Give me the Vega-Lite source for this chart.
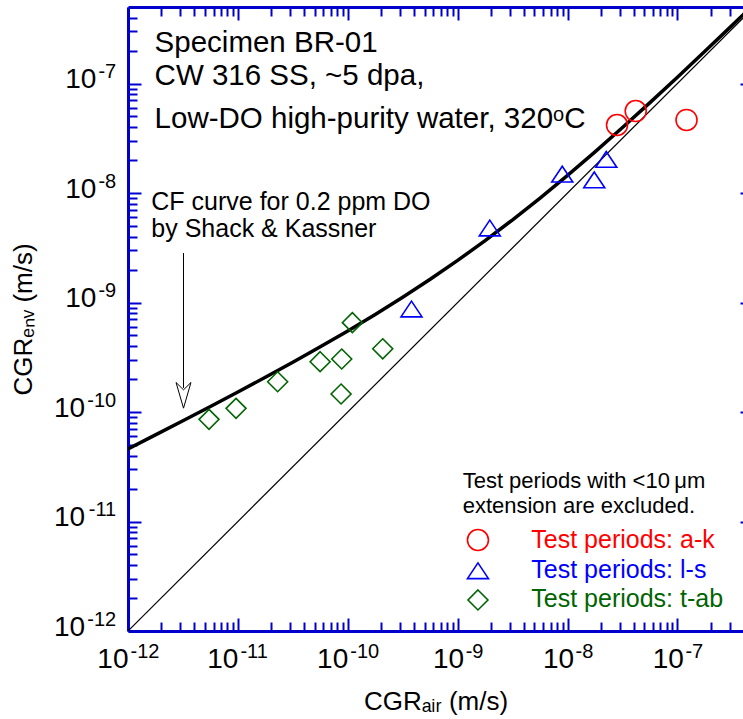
{
  "$schema": "https://vega.github.io/schema/vega-lite/v6.json",
  "width": 615,
  "height": 624,
  "autosize": {"type": "none"},
  "padding": {"left": 128, "top": 7, "right": 0, "bottom": 88},
  "background": "white",
  "resolve": {"axis": {"x": "independent", "y": "independent"}},
  "config": {
    "view": {"stroke": null},
    "axis": {
      "grid": false,
      "domainColor": "#0000CC",
      "domainWidth": 3,
      "tickColor": "#0000CC",
      "tickWidth": 2,
      "labelFont": "Liberation Sans",
      "labelFontSize": 28,
      "labelColor": "black",
      "labelOverlap": false,
      "labelFlush": false,
      "labelBound": false,
      "titleFont": "Liberation Sans",
      "titleFontSize": 26,
      "titleFontWeight": "normal",
      "titleColor": "black"
    }
  },
  "datasets": {
    "diag": [{"x": 1e-12, "y": 1e-12}, {"x": 5e-7, "y": 5e-7}],
    "curve": [
      {"x": 1e-12, "y": 4.6e-11}, {"x": 1.778e-12, "y": 6.18e-11}, {"x": 3.162e-12, "y": 8.32e-11},
      {"x": 5.623e-12, "y": 1.123e-10}, {"x": 1e-11, "y": 1.523e-10}, {"x": 1.778e-11, "y": 2.076e-10},
      {"x": 3.162e-11, "y": 2.847e-10}, {"x": 5.623e-11, "y": 3.937e-10}, {"x": 1e-10, "y": 5.5e-10},
      {"x": 1.778e-10, "y": 7.78e-10}, {"x": 3.162e-10, "y": 1.116e-9}, {"x": 5.623e-10, "y": 1.629e-9},
      {"x": 1e-9, "y": 2.423e-9}, {"x": 1.778e-9, "y": 3.676e-9}, {"x": 3.162e-9, "y": 5.692e-9},
      {"x": 5.623e-9, "y": 8.998e-9}, {"x": 1e-8, "y": 1.45e-8}, {"x": 1.778e-8, "y": 2.378e-8},
      {"x": 3.162e-8, "y": 3.962e-8}, {"x": 5.623e-8, "y": 6.69e-8}, {"x": 1e-7, "y": 1.142e-7},
      {"x": 1.778e-7, "y": 1.968e-7}, {"x": 3.162e-7, "y": 3.415e-7}, {"x": 5e-7, "y": 5.318e-7}
    ],
    "points": [
      {"x": 2.82e-8, "y": 4.18e-8, "series": "a-k"},
      {"x": 4.17e-8, "y": 5.61e-8, "series": "a-k"},
      {"x": 1.21e-7, "y": 4.65e-8, "series": "a-k"},
      {"x": 3.8e-10, "y": 8.73e-10, "series": "l-s"},
      {"x": 1.96e-9, "y": 4.79e-9, "series": "l-s"},
      {"x": 8.95e-9, "y": 1.49e-8, "series": "l-s"},
      {"x": 1.75e-8, "y": 1.32e-8, "series": "l-s"},
      {"x": 2.25e-8, "y": 2.03e-8, "series": "l-s"},
      {"x": 5.46e-12, "y": 8.57e-11, "series": "t-ab"},
      {"x": 9.62e-12, "y": 1.08e-10, "series": "t-ab"},
      {"x": 2.3e-11, "y": 1.89e-10, "series": "t-ab"},
      {"x": 5.6e-11, "y": 2.88e-10, "series": "t-ab"},
      {"x": 8.81e-11, "y": 3.05e-10, "series": "t-ab"},
      {"x": 1.1e-10, "y": 6.55e-10, "series": "t-ab"},
      {"x": 2.08e-10, "y": 3.78e-10, "series": "t-ab"},
      {"x": 8.69e-11, "y": 1.46e-10, "series": "t-ab"}
    ],
    "legendMarks": [
      {"x": 1.53e-9, "y": 6.78e-12, "series": "a-k"},
      {"x": 1.53e-9, "y": 3.55e-12, "series": "l-s"},
      {"x": 1.53e-9, "y": 1.92e-12, "series": "t-ab"}
    ],
    "legendText": [
      {"x": 4.68e-9, "y": 5.69e-12, "series": "a-k", "text": "Test periods: a-k"},
      {"x": 4.68e-9, "y": 3.03e-12, "series": "l-s", "text": "Test periods: l-s"},
      {"x": 4.68e-9, "y": 1.67e-12, "series": "t-ab", "text": "Test periods: t-ab"}
    ],
    "legendHeader": [
      {"x": 1.11e-9, "y": 2.01e-11, "text": "Test periods with <10\u2009μm"},
      {"x": 1.11e-9, "y": 1.19e-11, "text": "extension are excluded."}
    ],
    "titleBlock": [
      {"x": 1.746e-12, "y": 1.95e-7, "text": "Specimen BR-01"},
      {"x": 1.746e-12, "y": 9.68e-8, "text": "CW 316 SS, ~5 dpa,"},
      {"x": 1.746e-12, "y": 3.93e-8, "text": "Low-DO high-purity water, 320ᵒC"}
    ],
    "cfNote": [
      {"x": 1.63e-12, "y": 7.0e-9, "text": "CF curve for 0.2 ppm DO"},
      {"x": 1.63e-12, "y": 3.99e-9, "text": "by Shack & Kassner"}
    ],
    "arrowLine": [{"x": 3.2e-12, "y": 2.83e-9, "y2": 1.66e-10}],
    "arrowHead": [{"x": 3.2e-12, "y": 1.42e-10}]
  },
  "layer": [
    {
      "data": {"name": "diag"},
      "mark": {"type": "line", "color": "black", "strokeWidth": 1.2, "clip": true},
      "encoding": {
        "x": {
          "field": "x", "type": "quantitative",
          "scale": {"type": "log", "domain": [1e-12, 3.95e-7], "nice": false},
          "axis": {
            "orient": "bottom",
            "values": [1e-12,2e-12,3e-12,4e-12,5e-12,6e-12,7e-12,8e-12,9e-12,1e-11,2e-11,3e-11,4e-11,5e-11,6e-11,7e-11,8e-11,9e-11,1e-10,2e-10,3e-10,4e-10,5e-10,6e-10,7e-10,8e-10,9e-10,1e-9,2e-9,3e-9,4e-9,5e-9,6e-9,7e-9,8e-9,9e-9,1e-8,2e-8,3e-8,4e-8,5e-8,6e-8,7e-8,8e-8,9e-8,1e-7,2e-7,3e-7],
            "labelExpr": "abs(log(datum.value)/LN10 - round(log(datum.value)/LN10)) > 0.001 ? '' : '10'",
            "tickSize": {"condition": {"test": "abs(log(datum.value)/LN10 - round(log(datum.value)/LN10)) < 0.001", "value": -13}, "value": -9},
            "labelAlign": "right",
            "labelBaseline": "alphabetic",
            "labelOffset": {"condition": {"test": "datum.value < 5e-10", "value": 0}, "value": 6},
            "labelPadding": 49.3,
            "title": "CGRₐᵢᵣ (m/s)",
            "titlePadding": 11
          }
        },
        "y": {
          "field": "y", "type": "quantitative",
          "scale": {"type": "log", "domain": [1e-12, 5e-7], "nice": false},
          "axis": {
            "orient": "left",
            "values": [1e-12,2e-12,3e-12,4e-12,5e-12,6e-12,7e-12,8e-12,9e-12,1e-11,2e-11,3e-11,4e-11,5e-11,6e-11,7e-11,8e-11,9e-11,1e-10,2e-10,3e-10,4e-10,5e-10,6e-10,7e-10,8e-10,9e-10,1e-9,2e-9,3e-9,4e-9,5e-9,6e-9,7e-9,8e-9,9e-9,1e-8,2e-8,3e-8,4e-8,5e-8,6e-8,7e-8,8e-8,9e-8,1e-7,2e-7,3e-7,4e-7],
            "labelExpr": "abs(log(datum.value)/LN10 - round(log(datum.value)/LN10)) > 0.001 ? '' : '10'",
            "tickSize": {"condition": {"test": "abs(log(datum.value)/LN10 - round(log(datum.value)/LN10)) < 0.001", "value": -13}, "value": -9},
            "labelAlign": "right",
            "labelBaseline": "alphabetic",
            "labelOffset": 4,
            "labelPadding": {"condition": {"test": "datum.value < 5e-10", "value": 56.3}, "value": 45.2},
            "title": "CGRₑₙᵥ (m/s)",
            "titlePadding": 17
          }
        }
      }
    },
    {
      "data": {"name": "curve"},
      "mark": {"type": "line", "color": "black", "strokeWidth": 3.5, "clip": true},
      "encoding": {
        "x": {
          "field": "x", "type": "quantitative",
          "scale": {"type": "log", "domain": [1e-12, 3.95e-7], "nice": false},
          "axis": {
            "orient": "top",
            "values": [1e-12,2e-12,3e-12,4e-12,5e-12,6e-12,7e-12,8e-12,9e-12,1e-11,2e-11,3e-11,4e-11,5e-11,6e-11,7e-11,8e-11,9e-11,1e-10,2e-10,3e-10,4e-10,5e-10,6e-10,7e-10,8e-10,9e-10,1e-9,2e-9,3e-9,4e-9,5e-9,6e-9,7e-9,8e-9,9e-9,1e-8,2e-8,3e-8,4e-8,5e-8,6e-8,7e-8,8e-8,9e-8,1e-7,2e-7,3e-7],
            "labels": false,
            "tickSize": {"condition": {"test": "abs(log(datum.value)/LN10 - round(log(datum.value)/LN10)) < 0.001", "value": -13}, "value": -9},
            "title": null
          }
        },
        "y": {
          "field": "y", "type": "quantitative",
          "scale": {"type": "log", "domain": [1e-12, 5e-7], "nice": false},
          "axis": {
            "orient": "right",
            "values": [1e-12, 1e-11, 1e-10, 1e-9, 1e-8, 1e-7],
            "labels": false,
            "domain": false,
            "tickSize": -3,
            "title": null
          }
        }
      }
    },
    {
      "data": {"name": "arrowLine"},
      "mark": {"type": "rule", "color": "black", "strokeWidth": 1},
      "encoding": {
        "x": {"field": "x", "type": "quantitative", "axis": null},
        "y": {"field": "y", "type": "quantitative", "axis": null},
        "y2": {"field": "y2"}
      }
    },
    {
      "data": {"name": "arrowHead"},
      "mark": {"type": "point", "shape": "M0,1L-0.58,-1L0,-0.43L0.58,-1Z", "size": 660, "filled": true, "fill": "white", "stroke": "black", "strokeWidth": 1, "opacity": 1},
      "encoding": {
        "x": {"field": "x", "type": "quantitative", "axis": null},
        "y": {"field": "y", "type": "quantitative", "axis": null}
      }
    },
    {
      "data": {"name": "points"},
      "mark": {"type": "point", "filled": false, "size": 441, "strokeWidth": 1.6, "opacity": 1},
      "encoding": {
        "x": {
          "field": "x", "type": "quantitative",
          "axis": {
            "orient": "bottom",
            "values": [1e-12, 1e-11, 1e-10, 1e-9, 1e-8, 1e-7],
            "labelExpr": "'' + round(log(datum.value)/LN10)",
            "labelFontSize": 20,
            "labelAlign": "left",
            "labelBaseline": "alphabetic",
            "labelOffset": {"condition": {"test": "datum.value < 5e-10", "value": 2}, "value": 7.5},
            "labelPadding": 26.3,
            "ticks": false,
            "tickSize": 0,
            "domain": false,
            "title": null
          }
        },
        "y": {
          "field": "y", "type": "quantitative",
          "axis": {
            "orient": "left",
            "values": [1e-12, 1e-11, 1e-10, 1e-9, 1e-8, 1e-7],
            "labelExpr": "'' + round(log(datum.value)/LN10)",
            "labelFontSize": 20,
            "labelAlign": "right",
            "labelBaseline": "alphabetic",
            "labelOffset": -6,
            "labelPadding": 12.3,
            "ticks": false,
            "tickSize": 0,
            "domain": false,
            "title": null
          }
        },
        "color": {"field": "series", "type": "nominal", "scale": {"domain": ["a-k", "l-s", "t-ab"], "range": ["#FF0000", "#0000FF", "#006400"]}, "legend": null},
        "shape": {"field": "series", "type": "nominal", "scale": {"domain": ["a-k", "l-s", "t-ab"], "range": ["M-1,0A1,1 0 1,0 1,0A1,1 0 1,0 -1,0Z", "M0,-0.75L1,0.75L-1,0.75Z", "M0,-0.95L0.95,0L0,0.95L-0.95,0Z"]}, "legend": null}
      }
    },
    {
      "data": {"name": "legendMarks"},
      "mark": {"type": "point", "filled": false, "size": 441, "strokeWidth": 1.6, "opacity": 1},
      "encoding": {
        "x": {"field": "x", "type": "quantitative", "axis": null},
        "y": {"field": "y", "type": "quantitative", "axis": null},
        "color": {"field": "series", "type": "nominal", "legend": null},
        "shape": {"field": "series", "type": "nominal", "legend": null}
      }
    },
    {
      "data": {"name": "legendText"},
      "mark": {"type": "text", "align": "left", "baseline": "alphabetic", "font": "Liberation Sans", "fontSize": 25},
      "encoding": {
        "x": {"field": "x", "type": "quantitative", "axis": null},
        "y": {"field": "y", "type": "quantitative", "axis": null},
        "text": {"field": "text"},
        "color": {"field": "series", "type": "nominal", "legend": null}
      }
    },
    {
      "data": {"name": "legendHeader"},
      "mark": {"type": "text", "align": "left", "baseline": "alphabetic", "font": "Liberation Sans", "fontSize": 22, "color": "black"},
      "encoding": {
        "x": {"field": "x", "type": "quantitative", "axis": null},
        "y": {"field": "y", "type": "quantitative", "axis": null},
        "text": {"field": "text"}
      }
    },
    {
      "data": {"name": "titleBlock"},
      "mark": {"type": "text", "align": "left", "baseline": "alphabetic", "font": "Liberation Sans", "fontSize": 29.5, "color": "black"},
      "encoding": {
        "x": {"field": "x", "type": "quantitative", "axis": null},
        "y": {"field": "y", "type": "quantitative", "axis": null},
        "text": {"field": "text"}
      }
    },
    {
      "data": {"name": "cfNote"},
      "mark": {"type": "text", "align": "left", "baseline": "alphabetic", "font": "Liberation Sans", "fontSize": 25, "color": "black"},
      "encoding": {
        "x": {"field": "x", "type": "quantitative", "axis": null},
        "y": {"field": "y", "type": "quantitative", "axis": null},
        "text": {"field": "text"}
      }
    }
  ]
}
